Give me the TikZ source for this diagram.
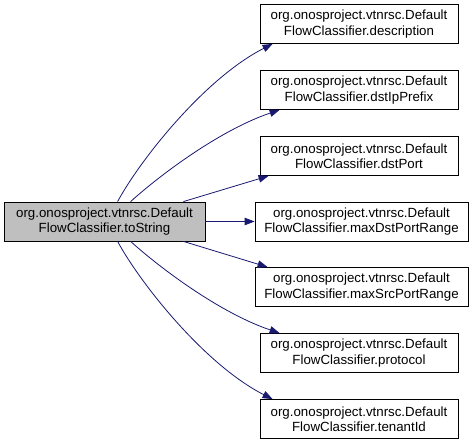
\documentclass[tikz,border=0pt]{standalone}
\usepackage{fontspec}
\setmainfont{Liberation Sans}
\usepackage{xcolor}
\usetikzlibrary{calc,arrows.meta}
\definecolor{edgeblue}{HTML}{191970}
\definecolor{srcgray}{HTML}{BFBFBF}
\begin{document}
\begin{tikzpicture}[
		x=1pt,y=-1pt,
		fn/.style={draw,rectangle,line width=0.8pt,minimum height=39pt,inner sep=0pt,align=center,
			font=\fontsize{13.3}{15.2}\selectfont},
		narrow/.style={fn,minimum width=198pt},
		wide/.style={fn,minimum width=213pt},
		call/.style={-{Triangle[length=10pt,width=7.5pt]},edgeblue,line width=0.8pt}
	]
		\useasboundingbox (0,0) rectangle (475,443);
		% aufrufende Methode
		\node[fn,minimum width=201pt,fill=srcgray] (src) at (104.5,221.5) {org.onosproject.vtnrsc.Default\\FlowClassifier.toString};
	
		% aufgerufene Methoden
		\node[narrow] (desc) at (359,24) {org.onosproject.vtnrsc.Default\\FlowClassifier.description};
		\node[narrow] (dip) at (359,90) {org.onosproject.vtnrsc.Default\\FlowClassifier.dstIpPrefix};
		\node[narrow] (dport) at (359,156) {org.onosproject.vtnrsc.Default\\FlowClassifier.dstPort};
		\node[wide] (mdst) at (361.5,221.5) {org.onosproject.vtnrsc.Default\\FlowClassifier.maxDstPortRange};
		\node[wide] (msrc) at (361.5,287) {org.onosproject.vtnrsc.Default\\FlowClassifier.maxSrcPortRange};
		\node[narrow] (proto) at (359,353) {org.onosproject.vtnrsc.Default\\FlowClassifier.protocol};
		\node[narrow] (tenant) at (359,419) {org.onosproject.vtnrsc.Default\\FlowClassifier.tenantId};
	
		% Aufrufkanten
		\draw[call] ($(src.north west)+(114,0)$) .. controls (140,160) and (205,78) .. ($(desc.south west)+(13,0)$);
		\draw[call] ($(src.north west)+(127,0)$) .. controls (160,175) and (220,130) .. ($(dip.south west)+(20,0)$);
		\draw[call] ($(src.north east)-(22,0)$) -- ($(dport.south west)+(9,0)$);
		\draw[call] (src.east) -- (mdst.west);
		\draw[call] ($(src.south east)-(22,0)$) -- ($(msrc.north west)+(13,0)$);
		\draw[call] ($(src.south west)+(127,0)$) .. controls (160,268) and (220,313) .. ($(proto.north west)+(20,0)$);
		\draw[call] ($(src.south west)+(114,0)$) .. controls (140,283) and (205,365) .. ($(tenant.north west)+(13,0)$);
	\end{tikzpicture}
\end{document}
